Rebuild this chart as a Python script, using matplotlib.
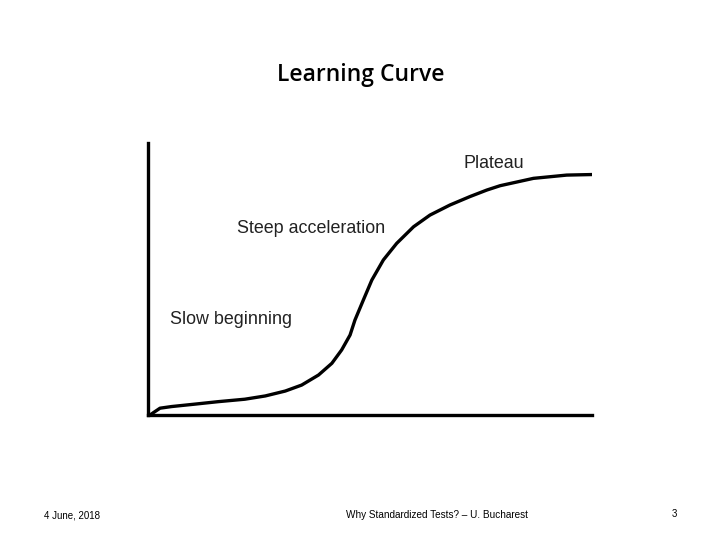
import matplotlib.pyplot as plt

# curve points (x: 0-100 practice, y: 0-100 skill)
practice = [0.45, 1.2, 2.7, 5.3, 10.6, 15.8, 21.8, 26.4, 30.9, 34.6, 38.4, 41.4, 43.6, 45.5,
            46.6, 48.5, 50.4, 53.0, 56.0, 59.8, 63.5, 68.0, 72.5, 76.3, 79.3, 86.8, 94.3, 100.0]
skill = [0.0, 0.85, 2.5, 3.1, 4.0, 4.9, 5.8, 7.0, 8.8, 11.0, 14.7, 19.0, 23.9, 29.4,
         34.9, 42.3, 49.6, 57.0, 63.1, 69.2, 73.5, 77.2, 80.3, 82.7, 84.3, 87.0, 88.2, 88.4]

labels = ["Slow beginning", "Steep acceleration", "Plateau"]
label_x = [5, 20, 71]
label_y = [35, 68.5, 92.5]

fig = plt.figure(figsize=(7.2, 5.4), dpi=100)
ax = fig.add_axes([0.2056, 0.2315, 0.6167, 0.5037])

ax.plot(practice, skill, color='black', lw=2.4, solid_capstyle='round', solid_joinstyle='round')
ax.set_xlim(0, 100)
ax.set_ylim(0, 100)
ax.spines['top'].set_visible(False)
ax.spines['right'].set_visible(False)
ax.spines['left'].set_linewidth(2.4)
ax.spines['bottom'].set_linewidth(2.4)
ax.set_xticks([])
ax.set_yticks([])

for t, x, y in zip(labels, label_x, label_y):
    ax.text(x, y, t, fontsize=12.9, family='Liberation Sans', color='#222222', va='center', ha='left')

fig.text(0.501, 0.861, "Learning Curve", fontsize=16.5, family='Open Sans', weight='semibold',
         ha='center', va='center', color='black')

# footer
fig.text(0.061, 0.046, "4 June, 2018", fontsize=7, family='Liberation Sans', ha='left', va='center')
fig.text(0.607, 0.046, "Why Standardized Tests? – U. Bucharest", fontsize=7.2, family='Liberation Sans', ha='center', va='center')
fig.text(0.936, 0.048, "3", fontsize=7, family='Liberation Sans', ha='center', va='center')

fig.savefig('out.png', dpi=100)
